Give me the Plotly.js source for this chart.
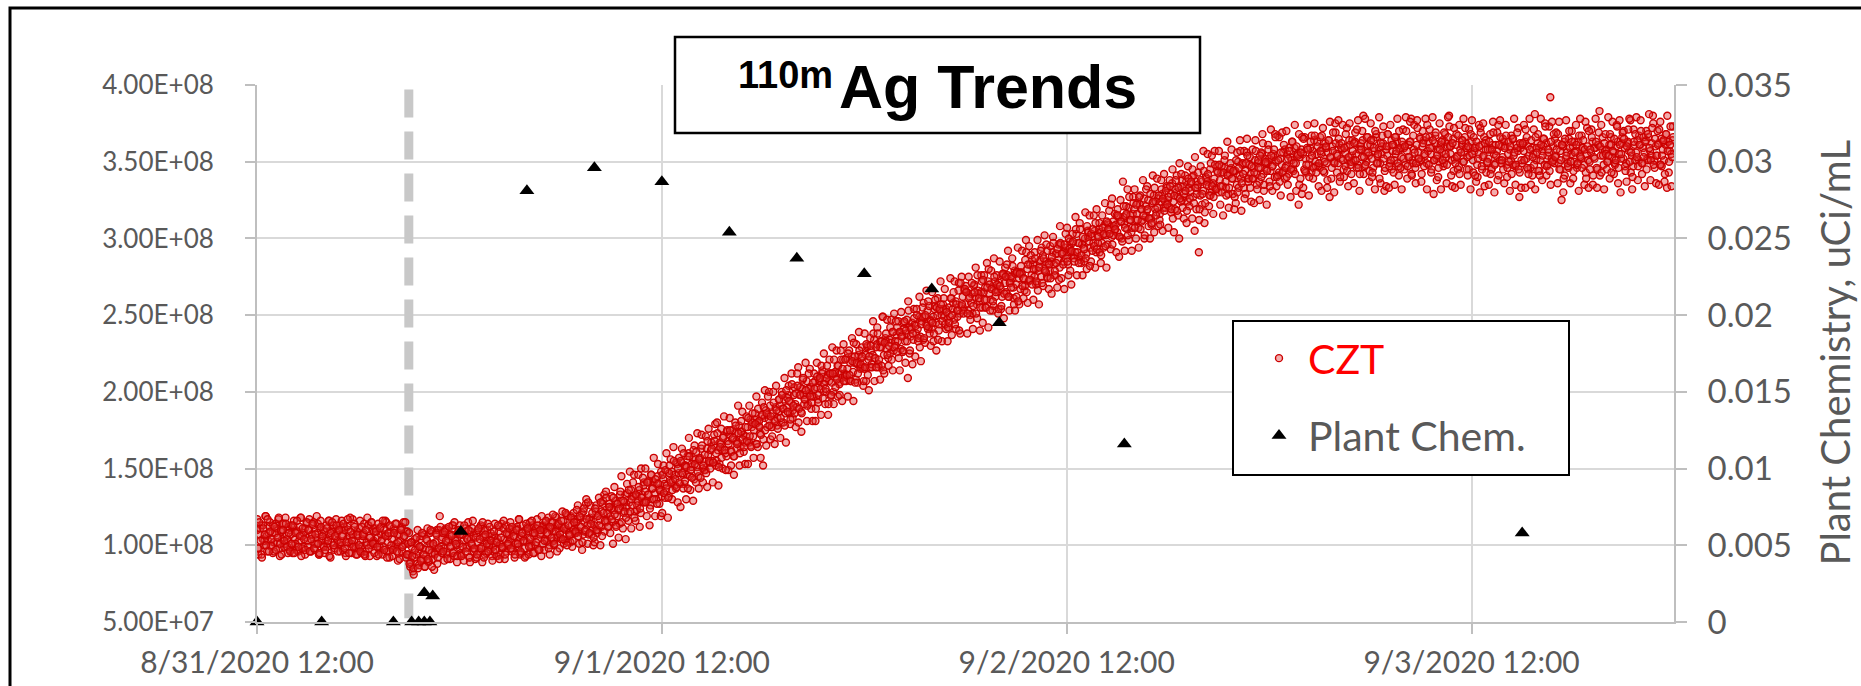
<!DOCTYPE html>
<html>
<head>
<meta charset="utf-8">
<script src="https://cdn.plot.ly/plotly-3.0.1.min.js"></script>
<style>html,body{margin:0;padding:0;background:#fff;overflow:hidden}</style>
</head>
<body>
<div id="chart" style="width:1861px;height:686px"></div>
<script>
// ---------------- DATA ----------------
// CZT detector readings (millions). Three interleaved logs every 5 min (A at :00, C at +1.25 min, B at +2.5 min).
// One row per hour, starting 8/31/2020 12:00.
const cztStart = '2020-08-31T12:00:00Z';
const cztStepMinutes = 5;
const cztOffsetBMinutes = 2.5;
const cztOffsetCMinutes = 1.25;
const cztMillionsA = [
110,94,107,113,104,100,119,106,103,112,99,108,
102,108,111,105,98,109,104,114,101,106,95,110,
107,100,112,104,97,109,103,118,106,99,111,105,
103,110,96,107,113,101,105,108,94,111,104,100,
109,104,99,116,106,102,111,97,105,108,101,113,
100,107,112,95,104,110,106,101,117,103,98,109,
106,111,99,104,108,93,102,113,105,100,110,103,
101,109,105,97,112,104,99,107,115,102,96,108,
104,98,110,101,107,95,103,112,100,106,92,109,
94,86,99,83,92,101,88,96,104,91,98,107,
97,103,89,108,95,100,84,102,110,96,119,99,
105,98,110,94,102,107,99,113,96,104,100,108,
101,95,107,103,111,98,104,92,109,100,106,97,
108,102,96,112,99,105,94,103,110,101,97,106,
99,106,103,93,109,101,114,98,104,96,107,102,
104,110,97,106,101,112,99,105,95,108,103,110,
102,109,105,99,113,106,100,111,104,97,108,112,
110,104,113,107,100,115,109,103,112,118,106,111,
105,112,116,103,110,119,108,102,113,110,117,108,
117,109,112,121,107,115,127,113,107,118,116,111,
113,122,108,120,117,112,127,133,115,121,112,125,
124,115,123,129,119,123,114,129,125,121,133,125,
121,128,136,126,132,122,132,129,136,121,133,139,
135,129,133,142,126,137,141,134,130,145,137,135,
132,143,140,137,148,132,142,148,142,146,137,153,
147,140,154,146,140,152,146,160,145,151,156,143,
156,151,145,156,163,150,155,149,163,159,154,162,
155,165,179,155,162,153,166,162,171,162,158,168,
172,162,169,158,173,168,167,178,164,174,172,167,
171,177,167,182,177,171,182,166,180,178,173,184,
152,183,188,177,182,191,177,186,182,190,178,187,
191,180,189,195,186,190,198,186,193,183,198,192,
190,216,198,187,202,198,195,207,192,199,203,197,
197,207,203,195,207,202,212,200,207,200,211,207,
212,206,200,212,210,217,206,212,209,221,212,207,
215,208,219,223,213,219,208,218,224,217,222,216,
215,224,229,221,216,227,224,234,222,231,218,229,
229,249,224,235,228,222,234,232,239,227,233,237,
233,239,228,237,245,233,238,209,242,236,245,234,
244,238,241,249,236,246,234,249,244,253,242,247,
241,249,254,245,250,240,253,250,257,249,254,247,
255,249,261,254,247,259,253,266,251,256,262,254,
257,265,253,262,258,251,269,262,257,266,259,265,
255,265,268,260,272,264,260,268,256,272,267,265,
271,267,262,277,271,265,276,262,272,274,268,279,
270,278,274,267,277,274,266,299,280,272,283,276,
283,275,280,271,279,285,275,289,280,285,275,284,
279,285,291,283,276,290,286,281,296,290,285,294,
291,283,294,291,297,289,291,303,288,297,286,296,
294,300,290,305,298,294,301,297,305,291,302,306,
304,297,302,309,302,296,309,306,301,311,305,309,
304,314,301,311,337,309,315,306,320,312,304,316,
319,312,316,307,322,319,312,326,314,318,325,313,
313,323,328,319,317,326,312,324,329,320,324,334,
325,320,329,336,324,319,330,327,300,334,325,334,
327,337,324,333,331,340,327,305,337,333,291,328,
337,331,310,340,337,334,345,330,336,339,332,344,
330,338,343,334,346,337,342,329,342,346,339,344,
344,335,350,341,339,348,333,344,356,339,348,342,
339,346,351,342,349,337,346,355,342,352,345,349,
352,344,347,355,340,350,367,343,352,348,356,339,
347,355,342,353,351,345,359,349,355,322,353,358,
355,345,352,359,348,352,343,357,364,350,355,347,
346,355,359,352,362,349,356,327,353,360,350,375,
355,349,361,352,358,345,356,360,351,364,348,354,
351,363,355,348,358,360,353,380,347,356,361,354,
361,352,346,357,366,354,359,349,355,362,331,358,
354,360,349,364,357,351,355,363,347,358,353,361,
359,348,357,353,363,378,351,358,346,361,356,350,
351,360,364,354,349,357,366,355,359,329,362,352,
358,350,361,356,347,363,353,360,380,355,351,365,
352,361,354,347,358,364,350,356,362,353,345,359,
363,351,357,360,348,355,330,361,353,366,358,349,
352,358,345,361,355,349,357,374,351,360,353,363,
360,348,355,358,351,365,354,347,361,357,327,359,
349,357,363,352,360,354,346,359,355,381,351,362,
359,351,357,365,348,362,354,356,392,352,360,349,
354,362,349,357,325,360,363,352,356,346,359,355,
360,350,357,346,363,354,352,359,348,376,355,351,
350,356,363,353,359,346,361,383,354,358,348,357,
358,350,361,366,353,356,348,360,363,355,330,362,
352,359,349,362,357,377,354,347,361,356,364,351,
361,349,359,356,364,352,366,357,354,380,351,360,
354,362,348,365,358,351,361,333,363,357,355,364
];
const cztMillionsB = [
98,115,103,92,111,107,100,117,96,109,104,113,
112,97,105,118,101,94,110,103,114,99,108,96,
101,113,95,108,116,99,106,93,111,104,97,115,
110,96,104,114,98,107,119,101,95,112,106,99,
97,111,103,93,108,115,100,106,113,96,110,102,
106,114,98,102,117,95,109,103,99,112,94,107,
100,96,112,107,94,110,118,98,105,115,101,95,
109,99,94,111,103,116,97,106,92,108,113,100,
97,108,114,96,102,91,110,99,106,115,94,101,
88,102,93,81,97,105,85,99,90,108,94,86,
104,91,97,110,86,101,94,107,92,98,112,95,
96,109,103,91,112,99,106,95,115,101,93,110,
107,93,99,113,96,104,110,89,101,116,98,105,
94,111,104,98,115,92,107,101,96,112,103,90,
109,97,102,113,91,105,99,116,94,108,101,111,
98,112,106,94,110,101,117,96,108,103,92,114,
111,99,104,116,95,108,102,113,97,110,119,101,
103,116,108,98,112,105,120,101,109,96,114,107,
116,104,111,121,100,113,107,118,103,115,109,123,
106,119,112,102,124,110,117,128,108,114,121,105,
124,110,119,113,128,106,121,116,131,112,125,119,
117,131,120,112,127,124,135,115,129,122,118,134,
136,122,130,141,118,133,126,138,124,131,144,128,
128,141,133,124,146,137,130,143,127,140,136,148,
146,134,149,139,131,152,141,136,155,143,138,150,
141,155,147,160,142,151,137,158,149,144,162,153,
161,148,156,144,165,152,159,147,168,155,150,163,
154,168,160,173,151,164,157,170,162,149,175,166,
175,161,170,158,178,166,173,160,181,169,164,177,
168,183,171,164,186,175,179,166,189,177,172,185,
190,175,186,197,178,184,171,193,181,188,176,195,
183,198,189,178,201,187,194,182,205,191,186,199,
204,189,198,186,209,195,201,191,212,197,193,206,
202,189,210,198,209,217,196,205,202,217,192,212,
198,212,221,203,208,217,198,221,215,207,221,211,
225,211,207,220,232,206,219,212,227,218,223,207,
216,231,211,223,230,216,238,222,216,238,221,233,
233,214,232,238,224,230,242,221,239,229,246,226,
222,239,236,227,246,240,233,253,227,241,238,248,
243,250,235,229,244,255,235,250,243,259,238,246,
245,238,260,255,234,254,257,246,261,244,252,242,
245,261,250,265,244,257,253,240,271,257,251,267,
265,251,261,247,271,256,265,251,276,261,255,272,
273,260,255,268,280,253,267,259,275,265,270,254,
269,256,277,264,275,283,262,271,268,282,257,277,
278,259,277,282,269,274,286,265,283,273,289,270,
280,287,272,266,281,292,271,287,279,296,274,283,
274,288,297,279,284,293,273,297,290,283,296,287,
285,300,279,292,298,285,306,291,284,306,289,301,
293,287,308,304,282,303,306,295,310,293,301,291,
289,307,303,295,311,306,303,322,296,308,306,315,
315,301,311,298,321,307,316,302,327,312,307,323,
307,322,312,327,306,319,315,302,332,319,313,329,
310,324,333,315,320,328,309,332,326,318,331,322,
327,334,319,313,328,338,318,333,326,342,320,329,
331,318,339,326,337,345,323,333,329,343,319,338,
329,344,323,335,342,328,349,334,327,348,332,343,
348,334,330,343,354,328,341,333,349,339,344,327,
351,330,346,357,336,342,326,349,354,339,333,347,
339,343,357,332,346,354,340,362,335,350,344,358,
334,354,347,358,366,340,351,337,356,343,361,346,
340,352,357,345,363,349,342,360,354,335,356,366,
365,344,348,358,340,363,354,346,367,343,360,349,
357,367,344,350,360,338,364,353,346,369,349,362,
354,365,340,362,351,359,368,344,353,361,342,357,
362,351,371,346,342,358,364,353,348,366,356,344,
364,343,359,370,349,355,339,362,367,352,346,360,
368,347,351,361,343,366,357,349,370,346,363,352,
360,370,347,353,363,341,367,356,349,372,352,365,
342,362,355,366,374,348,359,345,364,351,369,354,
346,358,363,351,369,355,348,366,360,341,362,372,
349,353,367,342,356,364,350,372,345,360,354,368,
355,366,341,363,352,360,369,345,354,362,343,358,
363,342,358,369,348,354,338,361,366,351,345,359,
367,346,350,360,342,365,356,348,369,345,362,351,
362,351,371,346,342,358,364,353,348,366,356,344,
341,361,354,365,373,347,358,344,363,350,368,353,
358,368,345,351,361,339,365,354,347,370,350,363,
344,356,361,349,367,353,346,364,358,339,360,370,
358,366,341,352,363,345,369,360,343,354,362,355,
350,354,368,343,357,365,351,373,346,361,355,369,
365,344,360,371,350,356,340,363,368,353,347,361,
370,349,353,363,345,368,359,351,372,348,365,354,
361,371,348,354,364,342,368,357,350,373,353,366
];
const cztMillionsC = [
117,98,111,94,113,103,119,96,108,115,100,95,
96,114,102,117,93,110,114,99,118,104,112,97,
113,95,116,101,109,96,112,118,98,108,94,114,
99,117,96,107,115,97,101,114,94,116,103,110,
95,113,101,116,92,109,113,98,117,103,111,96,
116,97,110,93,112,102,118,95,107,114,99,94,
98,116,95,106,114,96,100,113,93,115,102,109,
111,93,114,99,107,94,110,116,96,106,92,112,
93,111,99,114,90,107,111,96,115,101,109,94,
108,89,102,85,104,94,110,87,99,106,91,86,
93,111,90,101,109,91,95,108,88,110,97,104,
108,90,111,96,104,91,107,113,93,103,89,109,
113,94,107,90,109,99,115,92,104,111,96,91,
92,110,98,113,89,106,110,95,114,100,108,93,
96,114,93,104,112,94,98,111,91,113,100,107,
115,96,109,92,111,101,117,94,106,113,98,93,
112,94,115,100,108,95,111,117,97,107,93,113,
97,115,103,118,94,111,115,100,119,105,113,98,
104,122,101,112,120,102,106,119,99,121,108,115,
126,101,118,97,122,109,130,101,117,126,107,100,
102,126,110,131,100,122,129,109,135,116,127,108,
132,101,138,113,127,105,133,145,111,128,104,140,
116,148,111,132,146,116,123,146,112,150,128,141,
150,119,141,113,146,130,157,119,140,153,127,119,
121,152,131,160,118,147,156,130,164,139,154,128,
157,125,163,137,152,130,158,170,136,153,129,165,
141,173,137,157,172,141,149,171,138,176,154,167,
141,172,152,180,139,167,176,150,184,160,174,149,
183,152,175,146,180,163,191,152,174,187,161,153,
184,153,191,165,180,157,186,197,164,181,157,193,
169,201,165,185,200,169,177,200,166,204,183,195,
170,200,180,209,167,196,204,179,212,188,203,177,
212,180,203,174,208,192,219,181,202,215,189,181,
212,181,219,193,208,185,214,225,192,209,185,221,
197,229,192,213,227,197,205,227,194,231,210,222,
197,227,207,235,194,223,231,206,239,215,229,204,
238,207,230,201,235,218,246,207,229,242,216,208,
217,249,212,233,247,217,225,247,214,251,230,242,
246,214,252,226,241,219,247,259,225,242,218,254,
223,254,233,262,220,249,258,232,266,241,256,230,
265,233,256,227,261,244,272,233,254,267,241,233,
242,274,237,258,272,241,249,271,238,275,253,266,
269,238,275,250,264,241,270,281,248,264,240,276,
245,276,255,284,242,270,279,253,287,262,276,251,
285,254,276,248,281,264,292,253,275,287,261,253,
262,294,257,278,292,261,269,291,258,295,273,286,
260,291,270,299,257,286,294,269,302,278,292,267,
295,264,301,276,290,268,296,308,274,291,267,303,
307,276,298,270,303,287,314,276,297,310,284,276,
285,317,280,301,315,285,292,315,281,319,297,310,
284,315,294,323,281,310,318,293,326,302,316,291,
319,288,325,300,314,292,321,332,299,315,292,327,
332,300,323,294,328,311,338,300,321,334,308,300,
309,341,304,324,339,308,316,338,305,342,320,333,
307,338,317,345,304,332,341,315,349,324,338,313,
341,310,347,321,336,313,341,353,319,335,312,347,
322,357,317,339,355,321,328,354,316,357,333,347,
357,322,347,315,351,333,363,320,345,358,329,319,
323,356,333,364,318,349,357,329,365,337,353,324,
358,323,364,335,351,325,356,368,331,349,322,361,
337,371,331,353,368,334,341,366,328,369,344,358,
370,335,359,327,363,344,374,331,355,368,339,329,
333,366,343,374,328,359,367,339,375,347,363,334,
366,331,372,343,359,333,364,376,339,357,330,369,
343,377,337,359,374,340,347,372,334,375,350,364,
336,369,346,377,331,362,370,342,378,350,366,337,
375,340,364,332,368,349,379,336,360,373,344,334,
368,333,374,345,361,335,366,378,341,359,332,371,
345,379,339,361,376,342,349,374,336,377,352,366,
337,370,347,378,332,363,371,343,379,351,367,338,
340,375,332,364,349,368,336,379,373,360,334,344,
333,368,345,374,335,361,378,366,359,341,371,332,
377,343,359,337,340,374,372,347,375,334,364,350,
335,368,345,376,330,361,369,341,377,349,365,336,
374,340,363,331,367,348,378,335,359,372,343,333,
361,374,333,366,345,378,335,341,371,332,359,368,
344,378,338,360,375,341,348,373,335,376,351,365,
369,336,376,345,361,330,341,377,349,365,336,370,
339,363,374,348,331,378,367,359,335,343,372,333,
345,371,335,359,378,333,361,341,374,366,332,368,
345,379,339,361,376,342,349,374,336,377,352,366,
370,347,337,363,378,343,332,371,351,379,338,367,
377,342,366,334,370,351,381,338,362,375,346,336,
370,335,376,347,363,337,368,380,343,361,334,373
];

// Plant chemistry grab samples (uCi/mL)
const plantTimes = [
'2020-08-31 12:00','2020-08-31 15:50','2020-08-31 20:05','2020-08-31 21:10',
'2020-08-31 21:35','2020-08-31 21:55','2020-08-31 22:15','2020-08-31 21:55',
'2020-08-31 22:25','2020-09-01 00:05','2020-09-01 04:00','2020-09-01 08:00',
'2020-09-01 12:00','2020-09-01 16:00','2020-09-01 20:00','2020-09-02 00:00',
'2020-09-02 04:00','2020-09-02 08:00','2020-09-02 15:25','2020-09-03 15:00'
];
const plantValues = [
0,0,0,0,
0,0,0,0.0019,
0.0017,0.0059,0.0281,0.0296,
0.0287,0.0254,0.0237,0.0227,
0.0217,0.0195,0.0116,0.0058
];

const eventTime = '2020-08-31 21:00';

const yTickVals = [5e7,1e8,1.5e8,2e8,2.5e8,3e8,3.5e8,4e8];
const yTickText = ['5.00E+07','1.00E+08','1.50E+08','2.00E+08','2.50E+08','3.00E+08','3.50E+08','4.00E+08'];
const y2TickVals = [0,0.005,0.01,0.015,0.02,0.025,0.03,0.035];
const y2TickText = ['0','0.005','0.01','0.015','0.02','0.025','0.03','0.035'];

const titleSup = '110m';
const titleMain = 'Ag Trends';
const y2Title = 'Plant Chemistry, uCi/mL';
const seriesNames = ['CZT', 'Plant Chem.'];

// ---------------- BUILD ----------------
const t0 = Date.parse(cztStart);
const fmt = ms => new Date(ms).toISOString().slice(0, 23).replace('T', ' ');
const timesFor = (arr, offsetMin) => arr.map((v, i) => fmt(t0 + (i * cztStepMinutes + offsetMin) * 60000));
const cztTimes = timesFor(cztMillionsA, 0)
  .concat(timesFor(cztMillionsC, cztOffsetCMinutes))
  .concat(timesFor(cztMillionsB, cztOffsetBMinutes));
const cztValues = cztMillionsA.concat(cztMillionsC).concat(cztMillionsB).map(v => v * 1e6);

const W = 1861, H = 686;
const PL = 257, PT = 85, PW = 1417, PH = 537;
const px = x => (x - PL) / PW;
const py = y => (PT + PH - y) / PH;

const gray = '#595959';
const gridC = '#d9d9d9';
const axisC = '#bfbfbf';

const traces = [
  {
    type: 'scatter', mode: 'markers', x: cztTimes, y: cztValues,
    name: '<span style="color:#ff0000">' + seriesNames[0] + '</span>',
    legendgroup: 'a',
    marker: {symbol: 'circle', size: 7, color: 'rgba(222,50,50,0.4)',
             line: {color: 'rgb(204,0,0)', width: 1.4}},
    hoverinfo: 'skip'
  },
  {
    type: 'scatter', mode: 'markers', x: plantTimes, y: plantValues, yaxis: 'y2',
    name: seriesNames[1], legendgroup: 'b', cliponaxis: false,
    marker: {symbol: 'triangle-up', size: 13, color: '#000'},
    hoverinfo: 'skip'
  }
];

const layout = {
  width: W, height: H, autosize: false,
  margin: {l: PL, r: W - PL - PW, t: PT, b: H - PT - PH, pad: 0},
  paper_bgcolor: '#fff', plot_bgcolor: '#fff',
  font: {family: 'Lato', color: gray},
  showlegend: true,
  legend: {
    x: px(1250), y: py(325), xanchor: 'left', yanchor: 'top',
    bgcolor: 'rgba(0,0,0,0)', borderwidth: 0,
    font: {family: 'Lato', size: 41, color: gray},
    itemwidth: 48, tracegroupgap: 21, traceorder: 'grouped'
  },
  xaxis: {
    type: 'date',
    range: ['2020-08-31 12:00', '2020-09-04 00:00'],
    tick0: '2020-08-31 12:00', dtick: 86400000,
    tickformat: '%-m/%-d/%Y %H:%M',
    showgrid: true, gridcolor: gridC, gridwidth: 2,
    showline: true, linecolor: axisC, linewidth: 2,
    ticks: 'outside', ticklen: 10, tickwidth: 2, tickcolor: axisC,
    tickfont: {family: 'Lato', size: 30, color: gray},
    ticklabelstandoff: 3,
    zeroline: false
  },
  yaxis: {
    range: [5e7, 4e8],
    tickvals: yTickVals, ticktext: yTickText,
    showgrid: true, gridcolor: gridC, gridwidth: 2,
    showline: true, linecolor: axisC, linewidth: 2,
    ticks: 'outside', ticklen: 10, tickwidth: 2, tickcolor: axisC,
    tickfont: {family: 'Lato', size: 26, color: gray},
    ticklabelstandoff: 26,
    zeroline: false
  },
  yaxis2: {
    overlaying: 'y', side: 'right',
    range: [0, 0.035],
    tickvals: y2TickVals, ticktext: y2TickText,
    showgrid: false,
    showline: true, linecolor: axisC, linewidth: 2,
    ticks: 'outside', ticklen: 11, tickwidth: 2, tickcolor: axisC,
    tickfont: {family: 'Lato', size: 33, color: gray},
    ticklabelstandoff: 14,
    zeroline: false
  },
  shapes: [
    {type: 'line', xref: 'x', yref: 'y', x0: eventTime, x1: eventTime, y0: 3.97e8, y1: 5.25e7,
     line: {color: 'rgb(200,200,200)', width: 9, dash: '28px,14px'}, layer: 'between'},
    {type: 'rect', xref: 'paper', yref: 'paper', x0: px(10), x1: px(1885), y0: py(710), y1: py(8),
     line: {color: '#000', width: 3}, fillcolor: 'rgba(0,0,0,0)', layer: 'above'},
    {type: 'rect', xref: 'paper', yref: 'paper', x0: px(675), x1: px(1200), y0: py(133), y1: py(37),
     line: {color: '#000', width: 2.5}, fillcolor: '#fff', layer: 'above'},
    {type: 'rect', xref: 'paper', yref: 'paper', x0: px(1233), x1: px(1569), y0: py(475), y1: py(321),
     line: {color: '#000', width: 2}, fillcolor: '#fff', layer: 'above'}
  ],
  annotations: [
    {text: titleSup, xref: 'paper', yref: 'paper', x: px(737), y: py(75), xanchor: 'left', yanchor: 'middle',
     showarrow: false, borderpad: 0, font: {family: 'Liberation Sans', size: 38, color: '#000', weight: 700}},
    {text: titleMain, xref: 'paper', yref: 'paper', x: px(838), y: py(87), xanchor: 'left', yanchor: 'middle',
     showarrow: false, borderpad: 0, font: {family: 'Liberation Sans', size: 61, color: '#000', weight: 700}},
    {text: y2Title, xref: 'paper', yref: 'paper', x: px(1834), y: 0.5, xanchor: 'center', yanchor: 'middle',
     textangle: -90, showarrow: false, borderpad: 0, font: {family: 'Lato', size: 40, color: gray}}
  ]
};

Plotly.newPlot('chart', traces, layout, {displayModeBar: false, staticPlot: true});
</script>
</body>
</html>
